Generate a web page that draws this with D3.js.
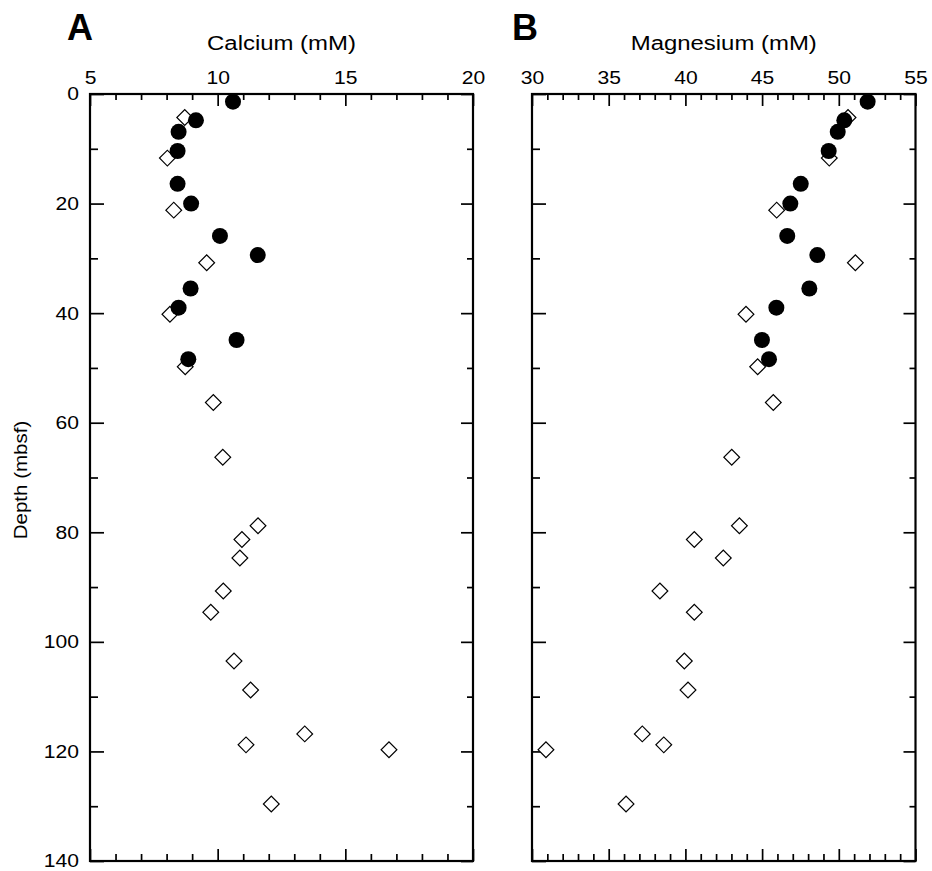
<!DOCTYPE html>
<html>
<head>
<meta charset="utf-8">
<script src="https://cdn.jsdelivr.net/npm/d3@7"></script>
<style>
  html, body { margin: 0; padding: 0; background: #fff; }
  svg { display: block; }
  text { font-family: "Liberation Sans", Arial, Helvetica, sans-serif; fill: #000; }
</style>
</head>
<body>
<svg id="chart" width="932" height="871"></svg>
<script>
// ---- Data ----
const depthCircles = [1.4, 4.8, 6.9, 10.4, 16.4, 20.0, 25.9, 29.4, 35.5, 39.0, 44.9, 48.4];
const caCircles    = [10.6, 9.15, 8.47, 8.43, 8.43, 8.96, 10.09, 11.57, 8.94, 8.47, 10.74, 8.85];
const mgCircles    = [51.88, 50.36, 49.93, 49.34, 47.52, 46.84, 46.64, 48.6, 48.08, 45.93, 44.99, 45.45];

const depthDiamonds = [4.3, 11.7, 21.2, 30.8, 40.2, 49.8, 56.3, 66.3, 78.8, 81.3, 84.7, 90.7, 94.6, 103.5, 108.8, 116.8, 118.8, 119.7, 129.6];
const caDiamonds    = [8.71, 8.03, 8.28, 9.57, 8.13, 8.73, 9.83, 10.2, 11.58, 10.95, 10.87, 10.22, 9.73, 10.64, 11.29, 13.41, 11.11, 16.71, 12.1];
const mgDiamonds    = [50.6, 49.38, 45.95, 51.08, 43.95, 44.71, 45.73, 43.02, 43.52, 40.58, 42.47, 38.34, 40.58, 39.93, 40.17, 37.19, 38.59, 30.91, 36.13];

const caTicks = [5, 10, 15, 20];
const mgTicks = [30, 35, 40, 45, 50, 55];
const depthTicks = [0, 20, 40, 60, 80, 100, 120, 140];

const panels = [
  { letter: "A", title: "Calcium (mM)", domain: [5, 20], ticks: caTicks, range: [90, 473],
    circles: caCircles, diamonds: caDiamonds, yLabels: true, letterX: 67 },
  { letter: "B", title: "Magnesium (mM)", domain: [30, 55], ticks: mgTicks, range: [532, 915.5],
    circles: mgCircles, diamonds: mgDiamonds, yLabels: false, letterX: 512 }
];

const SX = 1.14;          // horizontal stretch of the reference lettering
const TICK_FONT = 18.5;

const svg = d3.select("#chart");
const y = d3.scaleLinear().domain([0, 140]).range([94, 861]);
const minorDepth = d3.range(0, 141, 10).filter(d => d % 20 !== 0);

function styleAxis(g) {
  g.select(".domain").remove();
  g.selectAll(".tick line").attr("stroke", "#000").attr("stroke-width", 1.7);
  g.selectAll(".tick text").attr("font-size", TICK_FONT)
    .attr("font-family", '"Liberation Sans", Arial, sans-serif');
}

panels.forEach(p => {
  const x = d3.scaleLinear().domain(p.domain).range(p.range);
  const [x0, x1] = p.range;
  const [yTop, yBot] = y.range();
  const minorX = d3.range(p.domain[0], p.domain[1] + 0.001, 1).filter(v => !p.ticks.includes(v));

  // top axis major with labels
  svg.append("g").attr("transform", `translate(0,${yTop})`)
    .call(d3.axisTop(x).tickValues(p.ticks).tickSize(-12).tickPadding(10).tickFormat(d3.format("d")))
    .call(styleAxis)
    .call(g => g.selectAll(".tick text").attr("transform", `scale(${SX},1)`));
  svg.append("g").attr("transform", `translate(0,${yTop})`)
    .call(d3.axisTop(x).tickValues(minorX).tickSize(-6).tickFormat(""))
    .call(styleAxis);
  // bottom axis
  svg.append("g").attr("transform", `translate(0,${yBot})`)
    .call(d3.axisBottom(x).tickValues(p.ticks).tickSize(-12).tickFormat(""))
    .call(styleAxis);
  svg.append("g").attr("transform", `translate(0,${yBot})`)
    .call(d3.axisBottom(x).tickValues(minorX).tickSize(-7).tickFormat(""))
    .call(styleAxis);
  // left axis
  svg.append("g").attr("transform", `translate(${x0},0)`)
    .call(d3.axisLeft(y).tickValues(depthTicks).tickSize(-14).tickPadding(11)
      .tickFormat(p.yLabels ? d3.format("d") : ""))
    .call(styleAxis)
    .call(g => g.selectAll(".tick text")
      .attr("x", -11 / SX).attr("dy", "0.32em")
      .attr("transform", `scale(${SX},1)`));
  svg.append("g").attr("transform", `translate(${x0},0)`)
    .call(d3.axisLeft(y).tickValues(minorDepth).tickSize(-8).tickFormat(""))
    .call(styleAxis);
  // right axis
  svg.append("g").attr("transform", `translate(${x1},0)`)
    .call(d3.axisRight(y).tickValues(depthTicks).tickSize(-12).tickFormat(""))
    .call(styleAxis);
  svg.append("g").attr("transform", `translate(${x1},0)`)
    .call(d3.axisRight(y).tickValues(minorDepth).tickSize(-6).tickFormat(""))
    .call(styleAxis);

  // frame
  svg.append("rect")
    .attr("x", x0).attr("y", yTop).attr("width", x1 - x0).attr("height", yBot - yTop)
    .attr("fill", "none").attr("stroke", "#000").attr("stroke-width", 2.2);

  // title
  svg.append("text")
    .attr("transform", `translate(${(x0 + x1) / 2},50) scale(${SX},1)`)
    .attr("text-anchor", "middle").attr("font-size", 21)
    .text(p.title);
  // letter
  svg.append("text")
    .attr("x", p.letterX).attr("y", 40)
    .attr("font-size", 36).attr("font-weight", "bold")
    .text(p.letter);

  // diamonds (drawn first, under circles)
  const diamond = d3.symbol().type(d3.symbolSquare).size(124);
  svg.append("g").selectAll("path")
    .data(p.diamonds.map((v, i) => ({ v, d: depthDiamonds[i] })))
    .join("path")
    .attr("d", diamond)
    .attr("transform", d => `translate(${x(d.v)},${y(d.d)}) rotate(45)`)
    .attr("fill", "#fff").attr("stroke", "#000").attr("stroke-width", 1.2);

  // circles
  svg.append("g").selectAll("circle")
    .data(p.circles.map((v, i) => ({ v, d: depthCircles[i] })))
    .join("circle")
    .attr("cx", d => x(d.v)).attr("cy", d => y(d.d))
    .attr("r", 8).attr("fill", "#000");
});

// y-axis title
svg.append("text")
  .attr("transform", `translate(27,480) rotate(-90) scale(${SX},1)`)
  .attr("text-anchor", "middle").attr("font-size", 18)
  .text("Depth (mbsf)");
</script>
</body>
</html>
